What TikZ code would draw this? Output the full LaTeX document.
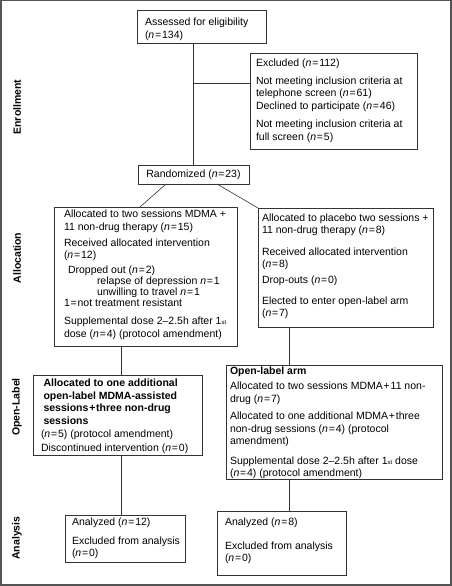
\documentclass[tikz,border=0pt]{standalone}
\usepackage{fontspec}
\setmainfont{Liberation Sans}
\definecolor{linec}{HTML}{333333}
\definecolor{framec}{HTML}{555555}
\newcommand{\nEq}[1]{\textit{n}\hspace{0.08em}=\hspace{0.08em}#1}
\newcommand{\ordst}{\raisebox{0.2pt}{\fontsize{6}{6}\selectfont st}}
\tikzset{
  box/.style={draw=linec, line width=0.6pt, inner sep=0pt, outer sep=0pt, anchor=north west},
  txt/.style={inner sep=0pt, outer sep=0pt, anchor=north west, align=left,
    font=\fontsize{10.5}{12.4}\selectfont, text=black},
  side/.style={rotate=90, inner sep=0pt, font=\bfseries\fontsize{10.5}{12}\selectfont},
  conn/.style={draw=linec, line width=0.6pt}
}
\begin{document}
\begin{tikzpicture}[x=1pt,y=-1pt]
\useasboundingbox (0,0) rectangle (452,586);
\draw[draw=framec, line width=1.5pt] (0.75,0.75) rectangle (451,584.8);

% boxes
\node[box, minimum width=129pt, minimum height=33pt] (assess) at (137,10) {};
\node[box, minimum width=167pt, minimum height=96pt] (excl) at (250,53) {};
\node[box, minimum width=111pt, minimum height=19pt, font=\fontsize{10.5}{12.4}\selectfont] (rand) at (138,165) {Randomized (\nEq{23})};
\node[box, minimum width=183pt, minimum height=139pt] (allocL) at (54,207) {};
\node[box, minimum width=175pt, minimum height=119pt] (allocR) at (258,208) {};
\node[box, minimum width=169pt, minimum height=80pt] (olL) at (33,375) {};
\node[box, minimum width=216pt, minimum height=114pt] (olR) at (226,365) {};
\node[box, minimum width=120pt, minimum height=47pt] (anL) at (65,515) {};
\node[box, minimum width=129pt, minimum height=64pt] (anR) at (217,511) {};

% texts
\node[txt] (assessT) at (145,17.5) {Assessed for eligibility\\[0.9pt](\nEq{134})};
\node[txt] (exclT) at (256,58.8) {Excluded (\nEq{112})\\[5.6pt]
Not meeting inclusion criteria at\\
telephone screen (\nEq{61})\\
Declined to participate (\nEq{46})\\[6pt]
Not meeting inclusion criteria at\\
full screen (\nEq{5})};
\node[txt] (allocLT) at (64,210.3) {Allocated to two sessions MDMA +\\
11 non-drug therapy (\nEq{15})\\[3.5pt]
Received allocated intervention\\
(\nEq{12})\\[2pt]
\hspace*{4pt}Dropped out (\nEq{2})\\[-1.4pt]
\hspace*{33pt}relapse of depression \nEq{1}\\[-1.4pt]
\hspace*{33pt}unwilling to travel \nEq{1}\\[-1.4pt]
1\hspace{0.08em}=\hspace{0.08em}not treatment resistant\\[6.5pt]
Supplemental dose 2--2.5h after 1\ordst\\
dose (\nEq{4}) (protocol amendment)};
\node[txt] (allocRT) at (262,213.8) {Allocated to placebo two sessions +\\
11 non-drug therapy (\nEq{8})\\[9pt]
Received allocated intervention\\
(\nEq{8})\\[3.5pt]
Drop-outs (\nEq{0})\\[8.6pt]
Elected to enter open-label arm\\
(\nEq{7})};
\node[txt] (olLT) at (41,379.1) {\hspace*{2.5pt}\textbf{Allocated to one additional}\\
\hspace*{2.5pt}\textbf{open-label MDMA-assisted}\\[-0.2pt]
\hspace*{2.5pt}\textbf{sessions\hspace{0.08em}+\hspace{0.08em}three non-drug}\\[0.7pt]
\hspace*{2.5pt}\textbf{sessions}\\[0.3pt]
(\nEq{5}) (protocol amendment)\\[2.1pt]
Discontinued intervention (\nEq{0})};
\node[txt] (olRT) at (230,367.3) {\textbf{Open-label arm}\\[2.6pt]
Allocated to two sessions MDMA\hspace{0.08em}+\hspace{0.08em}11 non-\\
drug (\nEq{7})\\[5.1pt]
Allocated to one additional MDMA\hspace{0.08em}+\hspace{0.08em}three\\
non-drug sessions (\nEq{4}) (protocol\\
amendment)\\[7.4pt]
Supplemental dose 2--2.5h after 1\ordst{} dose\\
(\nEq{4}) (protocol amendment)};
\node[txt] (anLT) at (72,517.8) {Analyzed (\nEq{12})\\[6.6pt]
Excluded from analysis\\
(\nEq{0})};
\node[txt] (anRT) at (225,517.8) {Analyzed (\nEq{8})\\[11.6pt]
Excluded from analysis\\
(\nEq{0})};

% side labels
\node[side] (sEnr) at (17,107) {Enrollment};
\node[side] (sAll) at (17,258) {Allocation};
\node[side] (sOpen) at (17,407) {Open-Label};
\node[side] (sAna) at (17,538) {Analysis};

% connectors
\coordinate (br) at (193.5,83);
\coordinate (xl) at (121,0);
\coordinate (xr) at (289,0);
\draw[conn] (rand.north |- assess.south) -- (rand.north);
\draw[conn] (br) -- (br -| excl.west);
\draw[conn] ([xshift=28pt]rand.south west) -- ([xshift=86pt]allocL.north west);
\draw[conn] ([xshift=-32pt]rand.south east) -- (allocR.north west);
\draw[conn] (xl |- allocL.south) -- (xl |- olL.north);
\draw[conn] (xl |- olL.south) -- (xl |- anL.north);
\draw[conn] (xr |- allocR.south) -- (xr |- olR.north);
\draw[conn] (xr |- olR.south) -- (xr |- anR.north);
\end{tikzpicture}
\end{document}
